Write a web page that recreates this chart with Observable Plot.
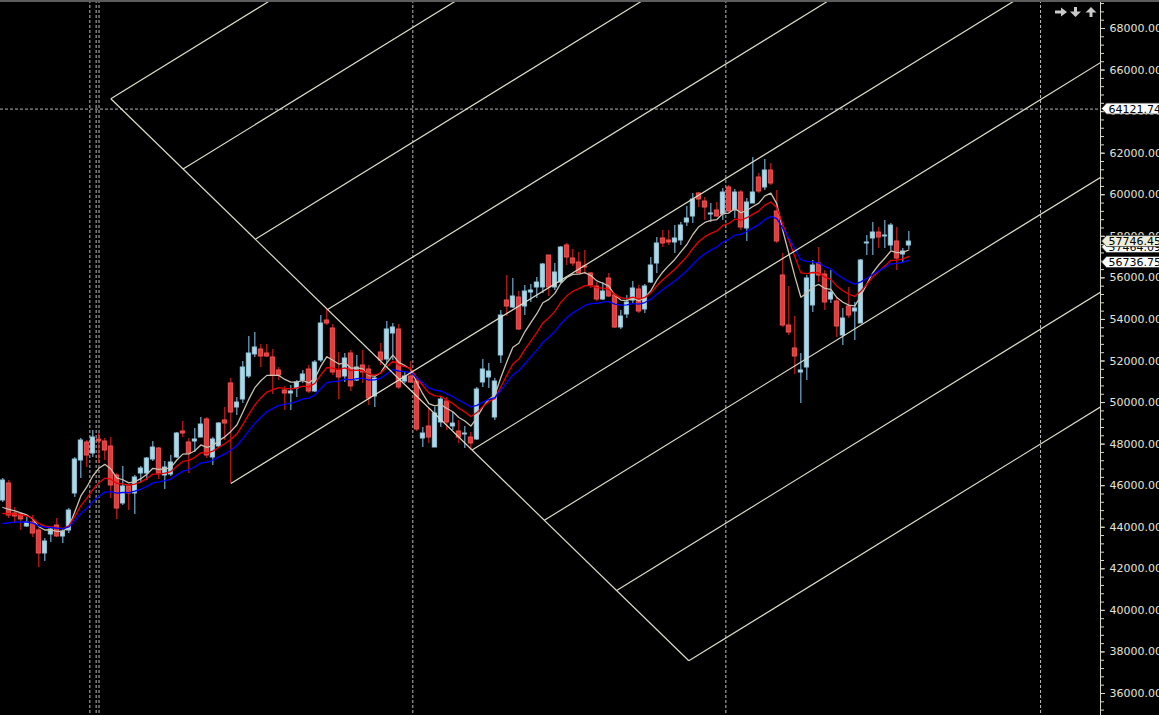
<!DOCTYPE html>
<html><head><meta charset="utf-8">
<script src="https://cdn.jsdelivr.net/npm/d3@7"></script>
<script src="https://cdn.jsdelivr.net/npm/@observablehq/plot@0.6"></script>
<style>
html,body{margin:0;padding:0;background:#000;overflow:hidden}
#wrap{position:relative;width:1159px;height:715px}
#topbar{position:absolute;left:0;top:0;width:1159px;height:2px;background:#5c5c5c}
</style></head><body><div id="wrap"><div id="topbar"></div></div>
<script>
// ---- OHLC data (bar index 0..151) ----
const openP = [45287,46105,44662,44614,44035,44228,43844,42737,43650,44084,
43554,43844,45624,47212,48078,47548,48222,48126,47886,46490,
45143,45961,45624,46586,46586,47259,47789,46490,46538,47356,
48607,48078,48126,48317,49185,47356,47886,49137,50917,49762,
50147,51254,52313,52553,52361,52168,51543,50580,50436,50677,
51061,51591,50532,52024,53949,53564,51543,51254,52361,51061,
51783,51591,50291,52409,52072,53323,53516,51013,51254,51013,
48271,48848,47837,49040,50051,48848,48607,48463,48317,48222,
50965,51206,49281,52265,54911,54574,55055,54622,55296,55537,
55537,57076,55537,55777,57558,56932,56739,56547,56210,55585,
54959,55970,55152,53612,54237,54911,55440,54478,55777,56691,
57895,57798,57702,57798,58664,58953,60060,59675,59050,59242,
59050,60349,59242,60108,58376,59579,60830,60349,61167,59194,
56114,53708,52601,51446,51687,54671,56691,56162,54959,54863,
53227,54622,54381,53804,57654,57895,58183,57991,57558,57750,
57125,57558];
const highP = [46345,46249,44950,44662,44469,44565,43940,43458,43940,44421,
43940,44902,47356,48271,48174,48655,48511,48271,48317,46586,
46923,46057,46490,46923,47356,48126,47837,47164,47452,48559,
49088,48271,48751,49281,49281,48317,49040,49762,51158,50243,
51976,53179,53371,52794,52794,52553,51687,50772,50821,51061,
51543,51783,52024,54189,54478,53756,52409,52361,52505,52264,
52505,51783,51302,52842,53901,53804,53756,51446,51976,51158,
48800,49714,49762,50243,50243,49522,49137,48848,48559,50724,
52072,51880,51158,54430,56114,55970,55344,55633,55681,56018,
56691,57076,56691,57509,57654,57365,57221,57317,56258,55777,
55777,56210,55248,54430,55152,55825,55633,55681,56980,57943,
58280,58280,58520,58664,59434,60060,60108,59868,59579,59627,
60301,60445,60252,60204,59819,61792,61022,61696,61504,60204,
57173,55585,54141,52361,56114,56836,57461,56355,56355,55055,
54526,55537,54815,56884,58039,58664,58424,58761,58616,58424,
57413,58231];
const lowP = [45191,44421,44180,43844,43987,43506,42063,42352,43266,43506,
43218,43698,45431,46345,46875,47356,47067,47212,45383,44374,
45046,44806,44614,46105,46249,47164,46297,45816,46442,47308,
48317,46586,47597,48317,47308,46971,47837,48174,46105,49377,
49955,51158,52168,51687,52168,50387,51061,49618,49618,50243,
50917,50436,50484,51927,53708,51302,50147,50965,50532,51013,
50917,49858,49762,51783,51879,52024,50628,50917,50917,48607,
47837,48030,47837,48800,48655,48655,48030,47789,47693,48174,
50724,50677,49137,51880,54141,54526,53467,54189,54815,55007,
55248,55104,55392,55729,56595,56547,56210,56162,55489,54863,
54911,55055,53564,53516,54045,54767,54285,54285,55729,56210,
57461,57558,57173,57558,58472,58616,59386,58761,58664,58905,
58761,59098,58857,58279,57750,59579,60060,60204,60445,57653,
53612,53227,51350,49955,51061,54333,55777,54430,54767,53131,
52746,54045,52986,53804,57076,57076,57413,57413,57317,56355,
56691,57365];
const closeP = [46249,44565,44518,44374,44228,43698,42737,43314,43891,43554,
43795,44806,47259,48174,47452,48317,48126,47693,46009,44902,
45961,45624,46394,46827,47308,47837,46586,46875,47116,48511,
48511,47548,48222,48943,47452,48222,48992,48992,49522,50003,
51687,52361,52649,52216,52216,51302,51302,50436,50532,50965,
51350,50532,51927,53804,53804,51446,51206,52120,50773,51687,
51446,50195,51157,52024,53516,53612,50725,51254,50965,48704,
48511,48317,49473,50147,49040,48992,48317,48511,48030,50628,
51591,51495,51013,54189,54622,55104,53516,55344,55392,55777,
56643,55537,56258,57461,56980,56691,56210,56499,55633,54959,
55344,55104,53612,54141,54815,55489,54381,55585,56595,57654,
57654,57702,57895,58520,58857,59771,59771,59386,59098,58953,
60108,59194,60108,58424,59627,60108,60156,61167,60541,57750,
53708,53371,52216,51543,55970,56595,56114,54815,55296,53660,
54045,54189,54526,56836,57702,58183,57943,58039,58520,56932,
57269,57746.45];

// moving averages (EMA periods) and their values at the first visible bar
const maPeriods = [8, 13, 21];
const maSeeds = [44950, 44662, 44181];
const maColors = ["#c9c2b2", "#e80000", "#0000ff"];

// period separators (bar positions) and crosshair price
const separatorBars = [14.5, 15.55, 16.03, 68.33, 120.5, 172.95];
const crosshairPrice = 64121.74;

// Gann grid: vertices along the falling line (bar, price), rising slope (price per bar)
const gannBar = [18.0, 30.04, 42.08, 54.12, 66.16, 78.2, 90.25, 102.29, 114.33];
const gannPrice = [64617, 61237, 57856, 54476, 51095, 47715, 44335, 40954, 37574];
const gannSlope = 178;
const gannBaseStart = {bar: 38, price: 46105}; // rising line through vertex 4 starts at this low
const gannEndBar = 200;

// axis ticks
const yTicks = [36000,38000,40000,42000,44000,46000,48000,50000,52000,54000,56000,58000,60000,62000,64000,66000,68000];
const yMinorTicks = d3.range(35200, 69201, 400);

// price tags on the right (drawn in this order)
const tagValues = [57464.09, 56736.75, 57746.45, 64121.74];
const tagFills = ["#ffffff", "#ffffff", "#eeeed8", "#ffffff"];

const xDomain = [-0.39, 182.94];
const yDomain = [34941, 69347];

const candles = d3.range(closeP.length).map(i => ({
  i, open: openP[i], high: highP[i], low: lowP[i], close: closeP[i], up: closeP[i] >= openP[i]
}));
const bulls = candles.filter(d => d.up);
const bears = candles.filter(d => !d.up);

function ema(values, period, seed) {
  const a = 2 / (period + 1);
  let e = seed;
  return Array.from(values, (v, t) => (t === 0 ? e : (e = e + a * (v - e))));
}

const gannSegs = [{x1: gannBar[0], y1: gannPrice[0], x2: gannBar[gannBar.length - 1], y2: gannPrice[gannPrice.length - 1]}];
gannBar.forEach((b, k) => {
  const s = k === 4 ? gannBaseStart : {bar: b, price: gannPrice[k]};
  gannSegs.push({x1: s.bar, y1: s.price, x2: gannEndBar, y2: gannPrice[k] + gannSlope * (gannEndBar - b)});
});

const axisColor = "#d8d8c4";
const labelColor = "#e4e4d4";

const chart = Plot.plot({
  width: 1159, height: 715,
  marginLeft: 0, marginRight: 59, marginTop: 0, marginBottom: 0,
  style: {background: "#000", color: labelColor, fontFamily: "DejaVu Sans", fontSize: "11px"},
  x: {type: "linear", domain: xDomain, axis: null},
  y: {type: "linear", domain: yDomain},
  marks: [
    Plot.ruleX(separatorBars, {stroke: "#bdbdbd", strokeWidth: 1, strokeDasharray: "3,2"}),
    Plot.ruleY([crosshairPrice], {stroke: "#b4b4b4", strokeWidth: 1, strokeDasharray: "3,2"}),
    // wicks
    Plot.ruleX(bulls, {x: "i", y1: "low", y2: "high", stroke: "#87cefa", strokeWidth: 1}),
    Plot.ruleX(bears, {x: "i", y1: "low", y2: "high", stroke: "#ff2020", strokeWidth: 1}),
    // bodies
    Plot.rect(bulls, {x1: d => d.i - 0.34, x2: d => d.i + 0.34, y1: "open", y2: "close", fill: "#add8e6", stroke: "#95c8dc", strokeWidth: 1}),
    Plot.rect(bears, {x1: d => d.i - 0.34, x2: d => d.i + 0.34, y1: "open", y2: "close", fill: "#e03c3c", stroke: "#f25454", strokeWidth: 1}),
    // moving averages
    ...maPeriods.map((p, k) => Plot.lineY(candles, Plot.mapY(V => ema(V, p, maSeeds[k]), {x: "i", y: "close", stroke: maColors[k], strokeWidth: 1.3}))),
    // Gann grid
    Plot.link(gannSegs, {x1: "x1", y1: "y1", x2: "x2", y2: "y2", stroke: "#dcdcc8", strokeWidth: 1.2, clip: true}),
    // right price axis
    Plot.axisY({anchor: "right", ticks: yMinorTicks, tickFormat: () => "", tickSize: 3, stroke: axisColor}),
    Plot.axisY({anchor: "right", ticks: yTicks, tickFormat: d3.format(".2f"), tickSize: 4, tickPadding: 5, stroke: axisColor, fill: labelColor, fontSize: 11})
  ]
});

document.getElementById("wrap").prepend(chart);

const ys = chart.scale("y");
const xs = chart.scale("x");
const svg = d3.select(chart);
const xAxis = xs.apply(xDomain[1]);

svg.append("line").attr("x1", xAxis + 0.5).attr("x2", xAxis + 0.5).attr("y1", 0).attr("y2", 715)
  .attr("stroke", axisColor).attr("stroke-width", 1);

tagValues.forEach((v, k) => {
  const g = svg.append("g").attr("transform", `translate(${xAxis + 1.5},${ys.apply(v)})`);
  g.append("path").attr("d", "M0,0L5,-5.5H70V5.5H5Z").attr("fill", tagFills[k]).attr("stroke", "#3a3a3a").attr("stroke-width", 0.8);
  g.append("text").attr("x", 7).attr("dy", "0.36em").attr("fill", "#000").attr("text-anchor", "start")
    .attr("font-family", "DejaVu Sans").attr("font-size", 11).text(d3.format(".2f")(v));
});

// toolbar arrows (right, down, up) in the top-right corner
const icons = [
  "M1055,10.5H1061V7.5L1067,12L1061,16.5V13.5H1055Z",
  "M1074,7H1077V11.5H1081L1075.5,17L1070,11.5H1074Z",
  "M1089.5,17H1092.5V12.5H1096.5L1091,7L1085.5,12.5H1089.5Z"
];
icons.forEach(d => svg.append("path").attr("d", d).attr("fill", "#cacaca"));
</script></body></html>
